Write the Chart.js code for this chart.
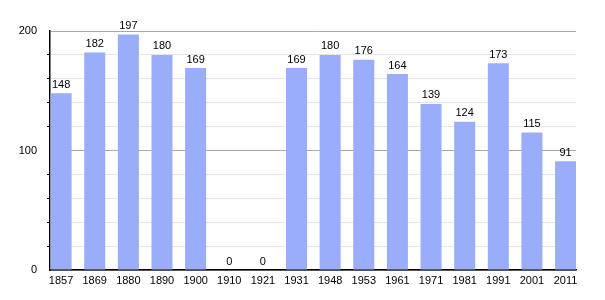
<!DOCTYPE html>
<html><head><meta charset="utf-8">
<script src="https://cdn.jsdelivr.net/npm/chart.js@4/dist/chart.umd.min.js"></script>
<style>html,body{margin:0;padding:0;background:#fff}#wrap{width:605px;height:300px}</style>
</head><body><div id="wrap"><canvas id="c" width="605" height="300"></canvas></div>
<script>
const years = ["1857","1869","1880","1890","1900","1910","1921","1931","1948","1953","1961","1971","1981","1991","2001","2011"];
const population = [148,182,197,180,169,0,0,169,180,176,164,139,124,173,115,91];
const yTickLabels = [0,100,200];

const FONT = {family:'"Liberation Sans", Arial, sans-serif', size:11};

const valueLabels = {
  id:'valueLabels',
  afterDatasetsDraw(chart){
    const ctx = chart.ctx;
    const meta = chart.getDatasetMeta(0);
    ctx.save();
    ctx.font = '11px "Liberation Sans", Arial, sans-serif';
    ctx.fillStyle = '#000';
    ctx.textAlign = 'center';
    ctx.textBaseline = 'bottom';
    meta.data.forEach((bar,i)=>{
      ctx.fillText(String(population[i]), bar.x, bar.y - 3);
    });
    ctx.restore();
  }
};

new Chart(document.getElementById('c'), {
  type:'bar',
  data:{
    datasets:[{
      data: population.map((v,i)=>({x:i, y:v})),
      backgroundColor:'#9aadfb',
      borderWidth:0,
      barPercentage:0.625,
      categoryPercentage:1
    }]
  },
  options:{
    responsive:false,
    animation:false,
    layout:{padding:{top:31,right:29,left:0,bottom:0}},
    plugins:{legend:{display:false},tooltip:{enabled:false}},
    scales:{
      x:{
        type:'linear',
        min:-0.33, max:15.31,
        offset:false,
        afterBuildTicks(scale){ scale.ticks = years.map((_,i)=>({value:i})); },
        afterFit(scale){ scale.height = 30; },
        grid:{display:false, drawTicks:false},
        border:{display:true,color:'#000',width:1.5},
        ticks:{color:'#000',font:FONT,padding:4,autoSkip:false,maxRotation:0,
          callback:(v)=>years[v] ?? ''}
      },
      y:{
        min:0,max:200,
        afterBuildTicks(scale){ const t=[]; for(let v=0;v<=200;v+=20) t.push({value:v}); scale.ticks=t; },
        afterFit(scale){ scale.width = 50; },
        grid:{
          color:(c)=> c.tick && c.tick.value % 100 === 0 ? '#a8a8a8' : '#e4e4e4',
          tickColor:(c)=> c.tick && c.tick.value % 100 === 0 ? 'rgba(0,0,0,0)' : '#000',
          tickLength:3,
          lineWidth:1
        },
        border:{display:true,color:'#000',width:1.5},
        ticks:{color:'#000',font:FONT,padding:10,
          callback:(v)=> yTickLabels.includes(v) ? String(v) : ''}
      }
    }
  },
  plugins:[valueLabels]
});
</script>
</body></html>
